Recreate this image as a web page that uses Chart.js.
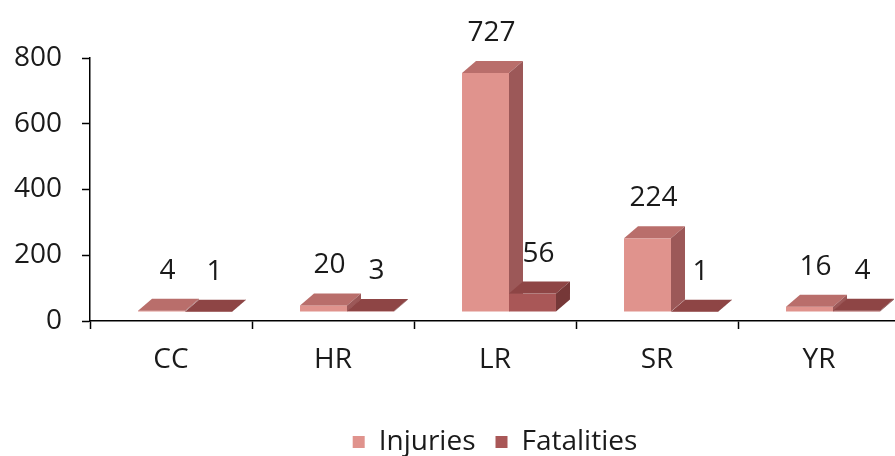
<!DOCTYPE html>
<html>
<head>
<meta charset="utf-8">
<script src="https://cdn.jsdelivr.net/npm/chart.js@4/dist/chart.umd.min.js"></script>
<style>
  html, body { margin: 0; padding: 0; background: #fff; overflow: hidden; }
  #wrap { width: 910px; height: 456px; }
</style>
</head>
<body>
<div id="wrap"><canvas id="chart" width="910" height="456"></canvas></div>
<script>
const categories = ['CC', 'HR', 'LR', 'SR', 'YR'];
const injuries = [4, 20, 727, 224, 16];
const fatalities = [1, 3, 56, 1, 4];
const yTicks = [0, 200, 400, 600, 800];

const FONT = '"Open Sans", sans-serif';

// colours for front / top / side of each series
const faces = [
    { front: '#e0938d', top: '#b96e6b', side: '#9c5858' },
    { front: '#a95757', top: '#8e4545', side: '#763838' }
];

// fake 3D: draw the bars ourselves from the element geometry
const bars3d = {
    id: 'bars3d',
    beforeDatasetsDraw() {
        return false;
    },
    afterDraw(chart) {
        const ctx = chart.ctx;
        const dx = 14, dy = 12;
        ctx.save();
        ctx.translate(14, -9);
        const metas = chart.data.datasets.map((d, i) => chart.getDatasetMeta(i));
        for (let i = 0; i < categories.length; i++) {
            metas.forEach((meta, di) => {
                const bar = meta.data[i];
                const c = faces[di];
                const left = bar.x - bar.width / 2;
                const right = bar.x + bar.width / 2;
                const top = bar.y;
                const base = bar.base;

                ctx.fillStyle = c.front;
                ctx.fillRect(left, top, right - left, base - top);

                ctx.fillStyle = c.top;
                ctx.beginPath();
                ctx.moveTo(left, top);
                ctx.lineTo(left + dx, top - dy);
                ctx.lineTo(right + dx, top - dy);
                ctx.lineTo(right, top);
                ctx.closePath();
                ctx.fill();

                ctx.fillStyle = c.side;
                ctx.beginPath();
                ctx.moveTo(right, top);
                ctx.lineTo(right + dx, top - dy);
                ctx.lineTo(right + dx, base - dy);
                ctx.lineTo(right, base);
                ctx.closePath();
                ctx.fill();
            });
        }
        // value labels
        ctx.fillStyle = '#1a1a1a';
        ctx.font = '28px ' + FONT;
        ctx.textAlign = 'center';
        ctx.textBaseline = 'middle';
        metas.forEach((meta, di) => {
            meta.data.forEach((bar, i) => {
                const v = chart.data.datasets[di].data[i];
                ctx.fillText(String(v), bar.x + 6, bar.y - 40);
            });
        });
        ctx.restore();
    }
};

new Chart(document.getElementById('chart'), {
    type: 'bar',
    data: {
        labels: categories,
        datasets: [{
            label: 'Injuries',
            data: injuries,
            backgroundColor: faces[0].front
        }, {
            label: 'Fatalities',
            data: fatalities,
            backgroundColor: faces[1].front
        }]
    },
    options: {
        responsive: false,
        animation: false,
        categoryPercentage: 0.58,
        barPercentage: 1,
        layout: { padding: { top: 58, right: 10, left: 0, bottom: -10 } },
        plugins: {
            tooltip: { enabled: false },
            legend: {
                position: 'bottom',
                fullSize: false,
                labels: {
                    boxWidth: 12,
                    boxHeight: 12,
                    padding: 20,
                    color: '#1a1a1a',
                    font: { family: FONT, size: 28 }
                }
            }
        },
        scales: {
            x: {
                afterFit: s => { s.height = 87; },
                border: { color: '#000', width: 1.5 },
                grid: { drawOnChartArea: false, tickLength: 8, color: '#000', tickWidth: 1.5 },
                ticks: { color: '#1a1a1a', padding: 14, font: { family: FONT, size: 28 } }
            },
            y: {
                min: 0,
                max: 800,
                afterFit: s => { s.width = 90; },
                afterBuildTicks: s => { s.ticks = yTicks.map(v => ({ value: v })); },
                border: { color: '#000', width: 1.5 },
                grid: { drawOnChartArea: false, tickLength: 8, color: '#000', tickWidth: 1.5 },
                ticks: { color: '#1a1a1a', padding: 20, font: { family: FONT, size: 28 } }
            }
        }
    },
    plugins: [bars3d]
});
</script>
</body>
</html>
